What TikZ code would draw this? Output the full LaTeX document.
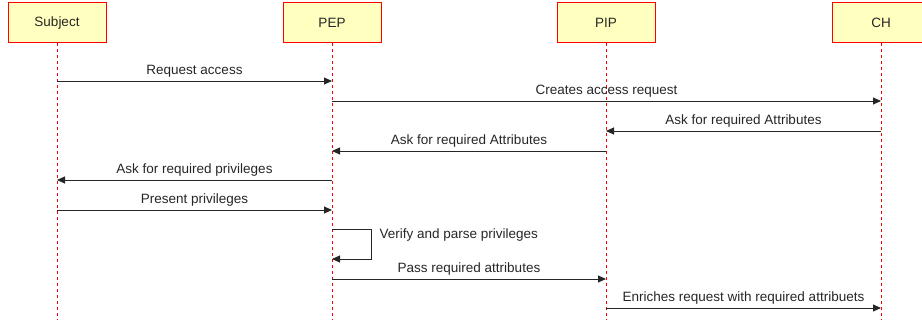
\documentclass[tikz,border=0pt]{standalone}
\usepackage{fontspec}
\setmainfont{Liberation Sans}
\usetikzlibrary{arrows.meta,positioning}

\definecolor{boxfill}{HTML}{FFFFC0}
\definecolor{lifered}{HTML}{FF0000}
\definecolor{ink}{HTML}{262626}

\begin{document}
\begin{tikzpicture}[
x=1pt, y=-1pt, font=\fontsize{13.5}{16}\selectfont, text=ink,
actor/.style = {rectangle, draw=lifered, fill=boxfill, line width=1pt,
  minimum width=98pt, minimum height=40pt, inner sep=0pt},
lifeline/.style = {draw=lifered, line width=0.8pt, dash pattern=on 3pt off 3pt},
msg/.style = {draw=ink, line width=0.9pt, -{Triangle[length=8pt,width=7pt]}},
lbl/.style = {above, inner sep=3pt}
]
\useasboundingbox (0,0) rectangle (922,320);
\clip (0,0) rectangle (922,320);

% participants
\node [actor] (subj) at (57,23) {Subject};
\node [actor] (pep) at (332,23) {PEP};
\node [actor] (pip) at (606,23) {PIP};
\node [actor] (ch) at (881,23) {CH};

% lifelines
\foreach \p in {subj, pep, pip, ch} {
  \coordinate (\p-end) at (\p |- 0,320);
  \draw [lifeline] (\p.south) -- (\p-end);
}

% messages
\draw [msg] (subj |- 0,81) -- node[lbl]{Request access} (pep |- 0,81);
\draw [msg] (pep |- 0,101) -- node[lbl]{Creates access request} (ch |- 0,101);
\draw [msg] (ch |- 0,131) -- node[lbl]{Ask for required Attributes} (pip |- 0,131);
\draw [msg] (pip |- 0,151) -- node[lbl]{Ask for required Attributes} (pep |- 0,151);
\draw [msg] (pep |- 0,180) -- node[lbl]{Ask for required privileges} (subj |- 0,180);
\draw [msg] (subj |- 0,210) -- node[lbl]{Present privileges} (pep |- 0,210);

% self call on PEP
\coordinate (loop-top) at (371,229);
\draw [msg] (pep |- loop-top) -- (loop-top) -- (371,259) -- (pep |- 0,259);
\node [anchor=west] (verify) at (376,235) {Verify and parse privileges};

\draw [msg] (pep |- 0,279) -- node[lbl]{Pass required attributes} (pip |- 0,279);
\draw [msg] (pip |- 0,308) -- node[lbl]{Enriches request with required attribuets} (ch |- 0,308);

\end{tikzpicture}
\end{document}
